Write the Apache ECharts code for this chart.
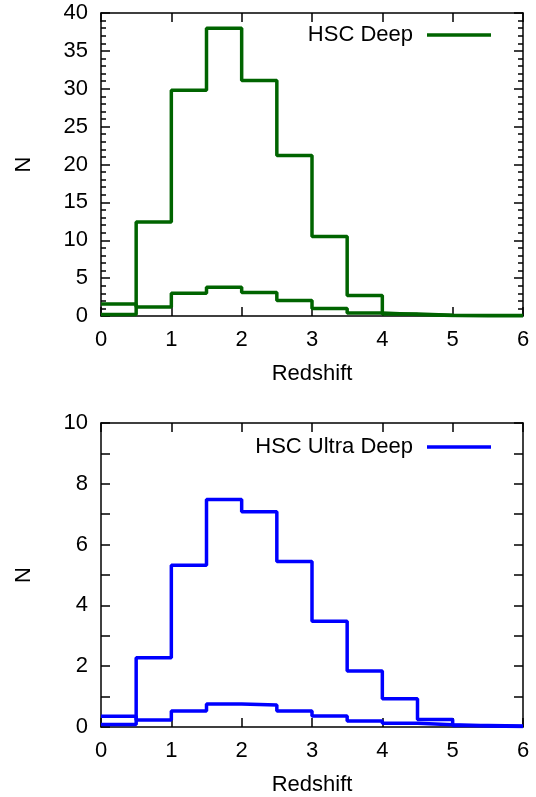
<!DOCTYPE html>
<html>
<head>
  <meta charset="utf-8">
  <title>Redshift histograms</title>
  <script src="https://cdn.jsdelivr.net/npm/echarts@6/dist/echarts.min.js"></script>
  <style>
    html, body { margin: 0; padding: 0; background: #fff; }
    #main { width: 536px; height: 797px; }
  </style>
</head>
<body>
  <div id="main"></div>
  <script>
    // left edges of the redshift bins (width 0.5)
    var binLeft = [0, 0.5, 1, 1.5, 2, 2.5, 3, 3.5, 4, 4.5, 5, 5.5];
    var binEnd = 6;

    // HSC Deep
    var deepMain = [0.2, 12.4, 29.8, 38.0, 31.1, 21.2, 10.5, 2.7, 0.25, 0.1, 0.05, 0.05];
    var deepSub = [1.6, 1.2, 3.0, 3.8, 3.1, 2.05, 1.0, 0.4, 0.2, 0.08, 0.04, 0.03];

    // HSC Ultra Deep
    var ultraMain = [0.08, 2.28, 5.32, 7.48, 7.08, 5.44, 3.48, 1.84, 0.93, 0.25, 0.05, 0.03];
    var ultraSub = [0.35, 0.23, 0.53, 0.76, 0.72, 0.53, 0.36, 0.2, 0.12, 0.07, 0.03, 0.02];

    var green = '#006400';
    var blue = '#0000ff';
    var font = '"Liberation Sans", Arial, sans-serif';
    var fs = 22;

    function steps(vals) {
      var pts = binLeft.map(function (x, i) { return [x, vals[i]]; });
      pts.push([binEnd, vals[vals.length - 1]]);
      return pts;
    }

    var axisLine = { show: true, onZero: false, lineStyle: { color: '#000', width: 1.5 } };
    var tick = { show: true, inside: true, length: 9, lineStyle: { color: '#000', width: 1.5 } };
    var label = { color: '#000', fontSize: fs, fontFamily: font };

    function xAxes(gi) {
      return [{
        type: 'value', gridIndex: gi, min: 0, max: 6, interval: 1,
        name: 'Redshift', nameLocation: 'middle', nameGap: 47,
        nameTextStyle: { color: '#000', fontSize: fs, fontFamily: font },
        axisLine: axisLine, axisTick: tick,
        axisLabel: Object.assign({ margin: 13 }, label),
        splitLine: { show: false }
      }, {
        type: 'value', gridIndex: gi, position: 'top', min: 0, max: 6, interval: 1,
        axisLine: axisLine, axisTick: tick, axisLabel: { show: false },
        splitLine: { show: false }
      }];
    }

    function yAxes(gi, max, interval, minorSplit, minorLen) {
      var minor = { show: true, splitNumber: minorSplit, length: minorLen, lineStyle: { color: '#000', width: 1.5 } };
      return [{
        type: 'value', gridIndex: gi, min: 0, max: max, interval: interval,
        name: 'N', nameLocation: 'middle', nameGap: 66,
        nameTextStyle: { color: '#000', fontSize: fs, fontFamily: font },
        axisLine: axisLine, axisTick: tick, minorTick: minor,
        axisLabel: Object.assign({ margin: 13 }, label),
        splitLine: { show: false }, minorSplitLine: { show: false }
      }, {
        type: 'value', gridIndex: gi, position: 'right', min: 0, max: max, interval: interval,
        axisLine: axisLine, axisTick: tick, minorTick: minor,
        axisLabel: { show: false },
        splitLine: { show: false }, minorSplitLine: { show: false }
      }];
    }

    function hist(name, vals, xi, yi, color) {
      return {
        name: name, type: 'line', step: 'end',
        xAxisIndex: xi, yAxisIndex: yi,
        showSymbol: false, silent: true, animation: false,
        lineStyle: { color: color, width: 3.5 },
        itemStyle: { color: color },
        data: steps(vals)
      };
    }

    var legendBase = {
      orient: 'horizontal', align: 'right', right: 40,
      itemWidth: 64, itemHeight: 3.5, icon: 'rect',
      textStyle: { color: '#000', fontSize: fs, fontFamily: font, padding: [0, 9, 0, 0] }
    };

    var chart = echarts.init(document.getElementById('main'));
    chart.setOption({
      animation: false,
      grid: [
        { left: 101, right: 13, top: 13, height: 303 },
        { left: 101, right: 13, top: 423, height: 305 }
      ],
      legend: [
        Object.assign({ top: 19, data: ['HSC Deep'] }, legendBase),
        Object.assign({ top: 431, data: ['HSC Ultra Deep'] }, legendBase)
      ],
      xAxis: xAxes(0).concat(xAxes(1)),
      yAxis: yAxes(0, 40, 5, 5, 5).concat(yAxes(1, 10, 2, 2, 9)),
      series: [
        hist('HSC Deep', deepMain, 0, 0, green),
        hist('deep sub', deepSub, 0, 0, green),
        hist('HSC Ultra Deep', ultraMain, 2, 2, blue),
        hist('ultra sub', ultraSub, 2, 2, blue)
      ]
    });
  </script>
</body>
</html>
